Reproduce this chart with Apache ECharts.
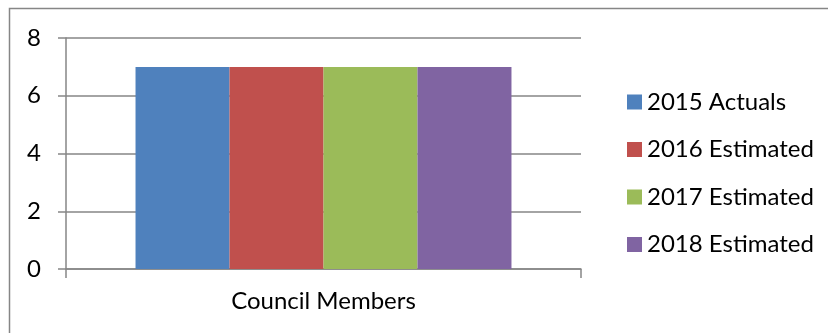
<!DOCTYPE html>
<html>
<head>
<meta charset="utf-8">
<script src="https://cdn.jsdelivr.net/npm/echarts@6/dist/echarts.min.js"></script>
<style>
  html, body { margin: 0; padding: 0; background: #fff; }
  #chart { width: 828px; height: 333px; }
</style>
</head>
<body>
<div id="chart"></div>
<script>
// Categories, series and values
const categories = ['Council Members'];
const seriesNames = ['2015 Actuals', '2016 Estimated', '2017 Estimated', '2018 Estimated'];
const seriesColors = ['#4F81BD', '#C0504D', '#9BBB59', '#8064A2'];
const values2015 = [7];
const values2016 = [7];
const values2017 = [7];
const values2018 = [7];
const seriesValues = [values2015, values2016, values2017, values2018];

const FONT = 'Lato';
const chart = echarts.init(document.getElementById('chart'), null, { renderer: 'canvas' });

chart.setOption({
  backgroundColor: '#ffffff',
  animation: false,
  graphic: [{
    type: 'rect',
    shape: { x: 9.5, y: 8.5, width: 840, height: 340 },
    style: { fill: 'none', stroke: '#868686', lineWidth: 1.5 },
    silent: true
  }],
  grid: { left: 66, right: 247, top: 38, bottom: 64 },
  legend: {
    orient: 'vertical',
    left: 622,
    top: 85,
    itemWidth: 15,
    itemHeight: 15,
    itemGap: 23.5,
    icon: 'rect',
    textStyle: { fontFamily: FONT, fontSize: 24, color: '#000', lineHeight: 24 },
    data: seriesNames
  },
  xAxis: {
    type: 'category',
    data: categories,
    axisLine: { lineStyle: { color: '#868686', width: 1.5 } },
    axisTick: { show: true, length: 9, lineStyle: { color: '#868686', width: 1.5 } },
    axisLabel: { fontFamily: FONT, fontSize: 24, color: '#000', margin: 20 }
  },
  yAxis: {
    type: 'value',
    min: 0,
    max: 8,
    interval: 2,
    axisLine: { show: true, lineStyle: { color: '#868686', width: 1.5 } },
    axisTick: { show: true, length: 8, lineStyle: { color: '#868686', width: 1.5 } },
    axisLabel: { fontFamily: FONT, fontSize: 24, color: '#000', margin: 25 },
    splitLine: { show: true, lineStyle: { color: '#868686', width: 1.5 } }
  },
  series: seriesNames.map((name, i) => ({
    name,
    type: 'bar',
    data: seriesValues[i],
    barGap: '0%',
    barCategoryGap: '27%',
    itemStyle: { color: seriesColors[i] }
  }))
});
</script>
</body>
</html>
